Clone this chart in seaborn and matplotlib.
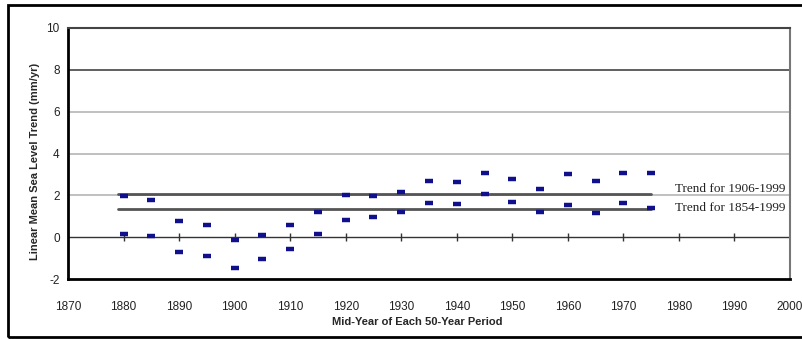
import matplotlib
matplotlib.use("Agg")
import matplotlib.pyplot as plt
import seaborn as sns
import pandas as pd
from matplotlib.patches import Rectangle

# ---- data ----
mid_years = [1880, 1885, 1890, 1895, 1900, 1905, 1910, 1915, 1920, 1925,
             1930, 1935, 1940, 1945, 1950, 1955, 1960, 1965, 1970, 1975]
upper_trend = [1.97, 1.76, 0.78, 0.56, -0.13, 0.08, 0.56, 1.19, 2.02, 1.99,
               2.16, 2.69, 2.66, 3.08, 2.80, 2.32, 3.03, 2.68, 3.08, 3.06]
lower_trend = [0.14, 0.06, -0.71, -0.88, -1.47, -1.06, -0.56, 0.16, 0.83, 0.98,
               1.20, 1.63, 1.59, 2.05, 1.70, 1.20, 1.54, 1.15, 1.65, 1.41]
trend_span = [1879, 1975]
trend_1906_1999 = 2.05
trend_1854_1999 = 1.33
trend_labels = ["Trend for 1906-1999", "Trend for 1854-1999"]
x_ticks = [1870, 1880, 1890, 1900, 1910, 1920, 1930, 1940, 1950, 1960, 1970, 1980, 1990, 2000]
y_ticks = [-2, 0, 2, 4, 6, 8, 10]

points = pd.DataFrame({
    "year": mid_years + mid_years,
    "trend": upper_trend + lower_trend,
})
trends = pd.DataFrame({
    "year": trend_span + trend_span,
    "value": [trend_1906_1999] * 2 + [trend_1854_1999] * 2,
    "which": [trend_labels[0]] * 2 + [trend_labels[1]] * 2,
})

sns.set_theme(style="white")
plt.rcParams['font.family'] = ['Liberation Sans', 'DejaVu Sans']
plt.rcParams['axes.unicode_minus'] = False

fig = plt.figure(figsize=(8.03, 3.39), dpi=100)
ax = fig.add_axes([68 / 803, 1 - 279 / 339, (790 - 68) / 803, (279 - 28) / 339])

# gridlines
for v in y_ticks[2:]:
    ax.axhline(v, color="#444444" if v in (8, 10) else "#b5b5b5", lw=1.2, zorder=1)
ax.axhline(0, color="#333333", lw=1.0, zorder=1)
# small tick marks on the zero axis
sns.scatterplot(x=x_ticks[1:-1], y=[0] * (len(x_ticks) - 2), marker="|", s=30,
                linewidth=1.0, color="#333333", ax=ax, zorder=2, legend=False)

# trend lines
sns.lineplot(data=trends, x="year", y="value", units="which", estimator=None,
             color="#555555", lw=2.0, ax=ax, zorder=3, legend=False)

# data points
sns.scatterplot(data=points, x="year", y="trend", marker="_", s=38,
                linewidth=3.2, color="#10108c", ax=ax, zorder=4, legend=False)

ax.text(1979.3, trend_1906_1999 + 0.26, trend_labels[0], family="Liberation Serif",
        fontsize=9.5, va="center", ha="left", color="#222222")
ax.text(1979.3, trend_1854_1999 + 0.06, trend_labels[1], family="Liberation Serif",
        fontsize=9.5, va="center", ha="left", color="#222222")

ax.set_xlim(1870, 2000)
ax.set_ylim(-2, 10)
ax.set_xticks(x_ticks)
ax.set_yticks(y_ticks)
ax.tick_params(axis="both", labelsize=8.5, length=0, pad=6, colors="#222222")
ax.tick_params(axis="x", pad=16)

ax.set_xlabel("Mid-Year of Each 50-Year Period", fontsize=8, fontweight="bold")
ax.set_ylabel("Linear Mean Sea Level Trend (mm/yr)", fontsize=8, fontweight="bold")
ax.xaxis.set_label_coords((417 - 68) / (790 - 68), -(38) / (279 - 28))
ax.yaxis.set_label_coords(-(68 - 40) / (790 - 68), 0.47)

for side in ["left", "bottom"]:
    ax.spines[side].set_color("black")
    ax.spines[side].set_linewidth(2.0)
ax.spines["top"].set_color("#444444")
ax.spines["top"].set_linewidth(1.5)
ax.spines["right"].set_color("#777777")
ax.spines["right"].set_linewidth(1.5)

# outer frame
fig.patches.append(Rectangle((8 / 803, 2 / 339), 1.2, 1 - 7 / 339, transform=fig.transFigure,
                             fill=False, edgecolor="black", lw=2.0, clip_on=False))

fig.savefig("out.png", dpi=100)
